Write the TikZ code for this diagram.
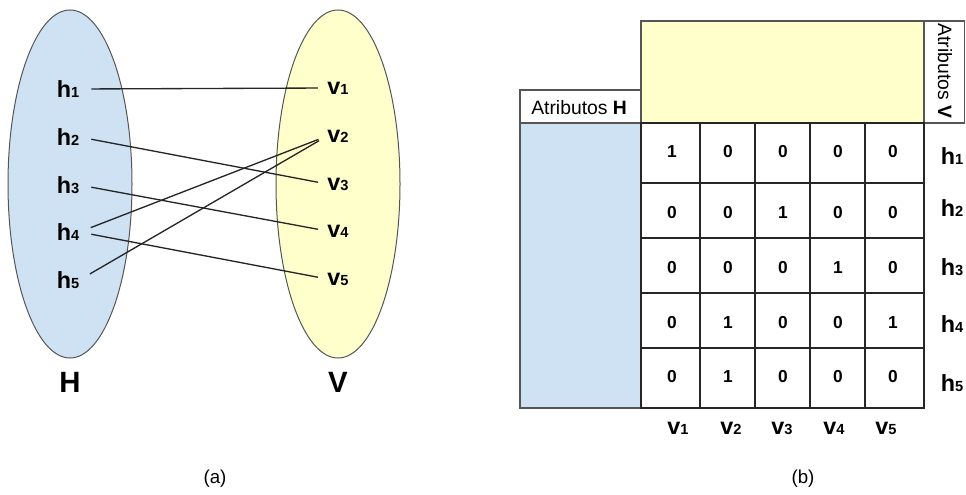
\documentclass[tikz,border=0pt]{standalone}
\usepackage{fontspec}
\setmainfont{Liberation Sans}
\usetikzlibrary{shapes.geometric}

\definecolor{hfill}{HTML}{CFE2F3}
\definecolor{vfill}{HTML}{FFFFCC}
\definecolor{rim}{HTML}{555555}
\definecolor{ink}{HTML}{262626}

% bold letter with a small index digit on the baseline
\newcommand{\idx}[2]{\textbf{#1{\fontsize{11}{12}\selectfont #2}}}

\begin{document}
\begin{tikzpicture}[x=0.75pt,y=-0.75pt,
  setshape/.style={ellipse, draw=rim, line width=0.75pt, minimum width=93pt, minimum height=261pt, inner sep=0pt},
  vert/.style={inner sep=0pt, font=\fontsize{17.5}{19}\selectfont},
  setname/.style={inner sep=0pt, font=\fontsize{22}{24}\selectfont\bfseries},
  link/.style={draw=ink, line width=1pt, shorten <=9pt, shorten >=7pt},
  cellnum/.style={inner sep=0pt, font=\fontsize{13}{14}\selectfont\bfseries},
  gridline/.style={draw=ink, line width=1pt},
  boxline/.style={draw=rim, line width=0.9pt},
  caption/.style={inner sep=0pt, font=\fontsize{14}{16}\selectfont},
  attr/.style={inner sep=0pt, font=\fontsize{14.5}{16}\selectfont}]
\useasboundingbox (0,0) rectangle (966,495);

% ---------- (a) bipartite graph ----------
\node[setshape, fill=hfill] (Hset) at (70,184) {};
\node[setshape, fill=vfill] (Vset) at (338,184) {};

\node[vert] (h1) at (68,89) {\idx{h}{1}};
\node[vert] (h2) at (68,137) {\idx{h}{2}};
\node[vert] (h3) at (68,185) {\idx{h}{3}};
\node[vert] (h4) at (68,232) {\idx{h}{4}};
\node[vert] (h5) at (68,280) {\idx{h}{5}};

\node[vert] (v1) at (338,88) {\idx{v}{1}};
\node[vert] (v2) at (338,136) {\idx{v}{2}};
\node[vert] (v3) at (338,184) {\idx{v}{3}};
\node[vert] (v4) at (338,231) {\idx{v}{4}};
\node[vert] (v5) at (338,279) {\idx{v}{5}};

\draw[link] (h1.east) -- (v1.west);
\draw[link] (h2.east) -- (v3.west);
\draw[link] (h3.east) -- (v4.west);
\draw[link] (h4.east) -- (v2.west);
\draw[link] (h4.east) -- (v5.west);
\draw[link] (h5.east) -- (v2.west);

\node[setname] (Hname) at (70,382) {H};
\node[setname] (Vname) at (338,382) {V};
\node[caption] (capa) at (215,479) {(a)};

% ---------- (b) incidence matrix ----------
\filldraw[boxline, fill=vfill] (641,21) rectangle (924,123);
\filldraw[boxline, fill=white] (924,21) rectangle (964.5,123);
\filldraw[boxline, fill=white] (520,90) rectangle (641,123);
\filldraw[boxline, fill=hfill] (520,123) rectangle (641,408);

\draw[gridline] (641,123) rectangle (924,408);
\foreach \x in {700,755,810,865} \draw[gridline] (\x,123) -- (\x,408);
\foreach \y in {183,238,293,348} \draw[gridline] (641,\y) -- (924,\y);

\node[attr, anchor=base west] (attrH) at (531,115) {Atributos \textbf{H}};
\node[attr, rotate=-90] (attrV) at (945,71) {Atributos \textbf{V}};

\foreach \x/\v [count=\c] in {672/1,728/0,783/0,838/0,893/0}
  \node[cellnum] (m1\c) at (\x,152) {\v};
\foreach \x/\v [count=\c] in {672/0,728/0,783/1,838/0,893/0}
  \node[cellnum] (m2\c) at (\x,213) {\v};
\foreach \x/\v [count=\c] in {672/0,728/0,783/0,838/1,893/0}
  \node[cellnum] (m3\c) at (\x,268) {\v};
\foreach \x/\v [count=\c] in {672/0,728/1,783/0,838/0,893/1}
  \node[cellnum] (m4\c) at (\x,323) {\v};
\foreach \x/\v [count=\c] in {672/0,728/1,783/0,838/0,893/0}
  \node[cellnum] (m5\c) at (\x,377) {\v};

\foreach \y [count=\r] in {156,208,267,324,383}
  \node[vert] (rh\r) at (952,\y) {\idx{h}{\r}};
\foreach \x [count=\c] in {678,731,782,834,886}
  \node[vert] (cv\c) at (\x,428) {\idx{v}{\c}};

\node[caption] (capb) at (803,479) {(b)};
\end{tikzpicture}
\end{document}
